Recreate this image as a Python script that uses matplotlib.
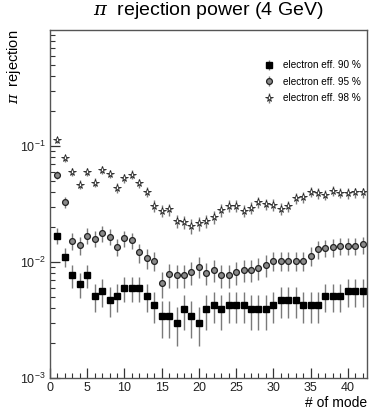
import numpy as np
import matplotlib
matplotlib.use('Agg')
import matplotlib.pyplot as plt
from matplotlib.ticker import LogLocator, FixedLocator, MultipleLocator, NullFormatter

plt.rcParams['font.family'] = ['Liberation Sans', 'DejaVu Sans']
plt.rcParams['mathtext.fontset'] = 'dejavuserif'

# 数据: mode 编号与三种电子效率下的 pi 抑制
modes = list(range(1, 43))

eff98 = [0.113, 0.0788, 0.0597, 0.0466, 0.0597, 0.0484, 0.0621, 0.0574, 0.0438, 0.0530,
         0.0568, 0.0480, 0.0401, 0.0307, 0.0278, 0.0284, 0.0227, 0.0222, 0.0205, 0.0216,
         0.0225, 0.0246, 0.0281, 0.0307, 0.0306, 0.0277, 0.0295, 0.0327, 0.0316, 0.0313,
         0.0289, 0.0304, 0.0355, 0.0362, 0.0401, 0.0391, 0.0381, 0.0413, 0.0397, 0.0391,
         0.0399, 0.0399]
err98 = [0.0067, 0.0056, 0.0049, 0.0043, 0.0049, 0.0044, 0.0050, 0.0048, 0.0042, 0.0046,
         0.0048, 0.0044, 0.0040, 0.0035, 0.0033, 0.0034, 0.0030, 0.0030, 0.0029, 0.0029,
         0.0030, 0.0031, 0.0034, 0.0035, 0.0035, 0.0033, 0.0034, 0.0036, 0.0036, 0.0035,
         0.0034, 0.0035, 0.0038, 0.0038, 0.0040, 0.0040, 0.0039, 0.0041, 0.0040, 0.0040,
         0.0040, 0.0040]

eff95 = [0.0562, 0.0331, 0.0152, 0.0139, 0.0169, 0.0159, 0.0177, 0.0165, 0.0135, 0.0160,
         0.0154, 0.0121, 0.0108, 0.0103, 0.00655, 0.00783, 0.00773, 0.00773, 0.0082, 0.00915,
         0.0081, 0.00858, 0.00773, 0.00773, 0.00815, 0.00858, 0.0086, 0.00897, 0.0095, 0.0103,
         0.0103, 0.0103, 0.0103, 0.0103, 0.0113, 0.0130, 0.0133, 0.0134, 0.0138, 0.0138,
         0.0138, 0.0142]
err95 = [0.0047, 0.0036, 0.0025, 0.0024, 0.0026, 0.0025, 0.0027, 0.0026, 0.0023, 0.0025,
         0.0025, 0.0022, 0.0021, 0.0020, 0.0016, 0.0018, 0.0018, 0.0018, 0.0018, 0.0019,
         0.0018, 0.0019, 0.0018, 0.0018, 0.0018, 0.0019, 0.0019, 0.0019, 0.0020, 0.0020,
         0.0020, 0.0020, 0.0020, 0.0020, 0.0021, 0.0023, 0.0023, 0.0023, 0.0024, 0.0024,
         0.0024, 0.0024]

eff90 = [0.0169, 0.0111, 0.00773, 0.00646, 0.00773, 0.00509, 0.00559, 0.00475, 0.00509, 0.0060,
         0.0060, 0.0060, 0.00509, 0.00426, 0.00342, 0.00342, 0.0030, 0.00391, 0.00342, 0.0030,
         0.00391, 0.00426, 0.00391, 0.00426, 0.00426, 0.00426, 0.00391, 0.00391, 0.00391, 0.00426,
         0.0047, 0.0047, 0.0047, 0.00426, 0.00426, 0.00426, 0.00512, 0.00512, 0.00512, 0.00562,
         0.00562, 0.00562]
err90 = [0.0026, 0.0021, 0.0018, 0.0016, 0.0018, 0.0014, 0.0015, 0.0014, 0.0014, 0.0015,
         0.0015, 0.0015, 0.0014, 0.0013, 0.0012, 0.0012, 0.0011, 0.0013, 0.0012, 0.0011,
         0.0013, 0.0013, 0.0013, 0.0013, 0.0013, 0.0013, 0.0013, 0.0013, 0.0013, 0.0013,
         0.0014, 0.0014, 0.0014, 0.0013, 0.0013, 0.0013, 0.0014, 0.0014, 0.0014, 0.0015,
         0.0015, 0.0015]

fig = plt.figure(figsize=(3.82, 4.11), dpi=100)
ax = fig.add_axes([0.131, 0.080, 0.830, 0.847])

ebar = '#7a7a7a'
ax.errorbar(modes, eff90, yerr=err90, fmt='s', ms=4.8, mfc='black', mec='black',
            ecolor=ebar, elinewidth=1.0, capsize=0, label='electron eff. 90 %')
ax.errorbar(modes, eff95, yerr=err95, fmt='o', ms=4.2, mfc='#8a8a8a', mec='#222222', mew=0.9,
            ecolor=ebar, elinewidth=1.0, capsize=0, label='electron eff. 95 %')
ax.errorbar(modes, eff98, yerr=err98, fmt='*', ms=5.5, mfc='white', mec='#222222', mew=0.6,
            ecolor=ebar, elinewidth=1.0, capsize=0, label='electron eff. 98 %')

ax.set_yscale('log')
ax.set_xlim(0, 42.6)
ax.set_ylim(1e-3, 1)
ax.yaxis.set_major_locator(FixedLocator([1e-3, 1e-2, 1e-1]))
ax.yaxis.set_minor_locator(LogLocator(base=10, subs=np.arange(2, 10), numticks=20))
ax.yaxis.set_minor_formatter(NullFormatter())
ax.xaxis.set_major_locator(MultipleLocator(5))
ax.xaxis.set_minor_locator(MultipleLocator(1))

ax.tick_params(which='both', direction='in', top=False, right=False, labelsize=9,
               colors='#333333', labelcolor='#222222')
ax.tick_params(axis='x', pad=3)
ax.tick_params(which='major', length=7, width=0.9)
ax.tick_params(which='minor', length=3.5, width=0.8)
for s in ax.spines.values():
    s.set_color('#555555')
    s.set_linewidth(1.0)

# 标签与标题
fig.text(0.545, 0.974, r'$\pi$  rejection power (4 GeV)', ha='center', va='center', fontsize=14)
fig.text(0.037, 0.927, r'$\pi$  rejection', rotation=90, ha='center', va='top', fontsize=10.5)
ax.set_xlabel('# of mode', loc='right', fontsize=10, labelpad=1)

leg = ax.legend(loc='upper right', bbox_to_anchor=(1.0, 0.93), frameon=False, fontsize=7.2,
                handletextpad=0.9, labelspacing=0.65, handlelength=1.0, borderaxespad=0.2)

fig.savefig('out.png', dpi=100)
